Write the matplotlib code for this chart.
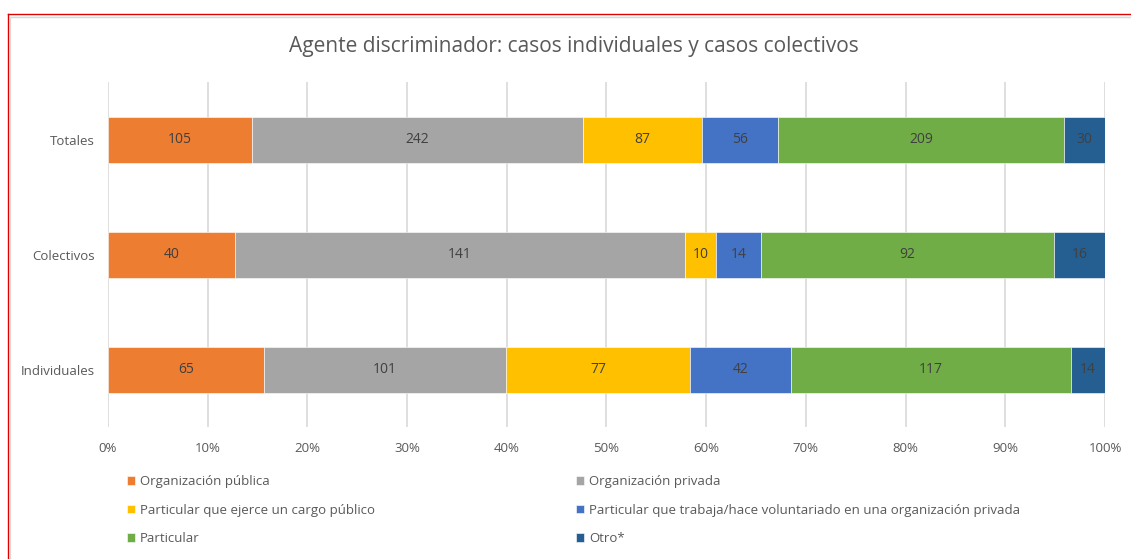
import matplotlib.pyplot as plt
from matplotlib.lines import Line2D
from matplotlib.patches import Rectangle
import numpy as np

plt.rcParams['font.family'] = ['Open Sans', 'DejaVu Sans']

categorias = ["Individuales", "Colectivos", "Totales"]
series = ["Organización pública", "Organización privada",
          "Particular que ejerce un cargo público",
          "Particular que trabaja/hace voluntariado en una organización privada",
          "Particular", "Otro*"]
org_publica = [65, 40, 105]
org_privada = [101, 141, 242]
cargo_publico = [77, 10, 87]
trabaja_privada = [42, 14, 56]
particular = [117, 92, 209]
otro = [14, 16, 30]
colores = ["#ED7D31", "#A5A5A5", "#FFC000", "#4472C4", "#70AD47", "#255E91"]

valores = np.array([org_publica, org_privada, cargo_publico,
                    trabaja_privada, particular, otro], dtype=float)
totales = valores.sum(axis=0)
pct = valores / totales

fig = plt.figure(figsize=(11.31, 5.59), dpi=100)
ax = fig.add_axes([0.0955, 0.2361, 0.8815, 0.6172])

y = np.arange(len(categorias))
left = np.zeros(len(categorias))
handles = []
for i in range(len(series)):
    b = ax.barh(y, pct[i], left=left, height=0.4, color=colores[i],
                edgecolor="white", linewidth=0.4, label=series[i], zorder=3)
    handles.append(b)
    ax.bar_label(b, labels=[f"{int(v)}" for v in valores[i]],
                 label_type="center", color="#404040", fontsize=10)
    left += pct[i]

ax.set_xlim(0, 1)
ax.set_ylim(-0.5, 2.5)
ax.set_xticks(np.arange(0, 1.01, 0.1))
ax.set_xticklabels([f"{int(round(t * 100))}%" for t in np.arange(0, 1.01, 0.1)])
ax.set_yticks(y)
ax.set_yticklabels(categorias)
ax.tick_params(axis="both", length=0, colors="#595959", labelsize=9.5)
ax.tick_params(axis="x", pad=11)
ax.tick_params(axis="y", pad=9.5)
ax.grid(axis="x", color="#D9D9D9", linewidth=1.2, zorder=0)
for s in ax.spines.values():
    s.set_visible(False)

fig.text(0.5075, 0.917, "Agente discriminador: casos individuales y casos colectivos",
         ha="center", va="center", fontsize=15, color="#595959")

leg_kw = dict(frameon=False, fontsize=9.5, handlelength=0.65, handleheight=0.65,
              handletextpad=0.35, labelspacing=1.17, labelcolor="#595959",
              borderaxespad=0, borderpad=0)
leg1 = fig.legend([handles[0], handles[2], handles[4]],
                  [series[0], series[2], series[4]],
                  loc="upper left", bbox_to_anchor=(0.112, 0.15), **leg_kw)
leg2 = fig.legend([handles[1], handles[3], handles[5]],
                  [series[1], series[3], series[5]],
                  loc="upper left", bbox_to_anchor=(0.509, 0.15), **leg_kw)

# marco del grafico
fig.add_artist(Rectangle((10 / 1131, -0.01), 1.0, 1 - 17 / 559 + 0.01,
                         transform=fig.transFigure, fill=False,
                         edgecolor="#D9D9D9", linewidth=1.0))
fig.add_artist(Line2D([8 / 1131, 1], [1 - 13.5 / 559] * 2,
                      transform=fig.transFigure, color="#E00000", linewidth=1.0))
fig.add_artist(Line2D([8 / 1131] * 2, [0, 1 - 13.5 / 559],
                      transform=fig.transFigure, color="#E00000", linewidth=1.0))

fig.savefig("out.png", dpi=100, facecolor="white")
